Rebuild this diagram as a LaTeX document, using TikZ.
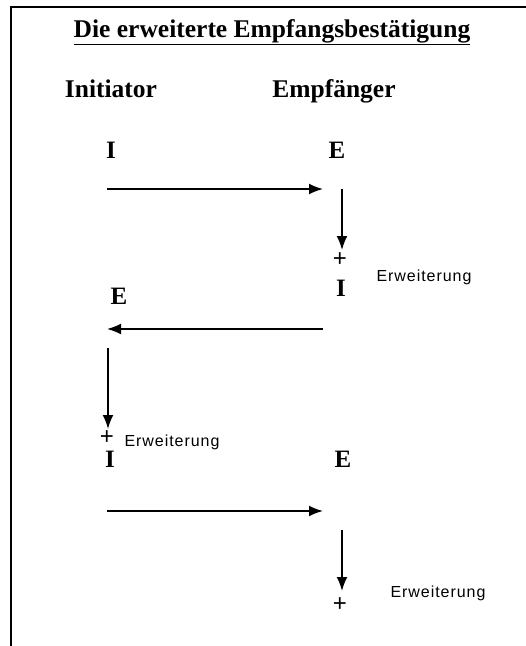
\documentclass[tikz,border=0pt]{standalone}
\usepackage{fontspec}
\setmainfont{Liberation Serif}
\newfontfamily\erwfont[LetterSpace=6]{Liberation Sans}
\newfontfamily\plusfont{Liberation Sans}
\usetikzlibrary{arrows.meta}
\tikzset{
  lbl/.style={inner sep=0pt, anchor=base, font=\bfseries\fontsize{25}{28}\selectfont},
  head/.style={inner sep=0pt, anchor=base, font=\bfseries\fontsize{25.5}{28}\selectfont},
  erw/.style={inner sep=0pt, font=\erwfont\fontsize{16}{18}\selectfont},
  plus/.style={inner sep=0pt, text height=12pt, text depth=-4pt, font=\plusfont\fontsize{24}{26}\selectfont},
  msg/.style={line width=1.8pt, -{Latex[length=14pt,width=11pt]}},
  frame/.style={line width=2.2pt}
}
\begin{document}
\begin{tikzpicture}[x=1pt,y=-1pt]
\useasboundingbox (0,0) rectangle (526,646);
\fill[white] (0,0) rectangle (526,646);
% frame
\coordinate (ftr) at (526,7);
\coordinate (ftl) at (11,7);
\coordinate (fbl) at (11,646);
\draw[frame] (ftr) -- (ftl) -- (fbl);
% title
\node[inner sep=0pt, anchor=base, font=\bfseries\fontsize{25.5}{28}\selectfont] (title) at (272,37) {\underline{Die erweiterte Empfangsbestätigung}};
% headers
\node[head] (ini) at (111,97) {Initiator};
\node[head] (emp) at (334,97) {Empfänger};
% row 1
\node[lbl] (i1) at (111,158) {I};
\node[lbl] (e1) at (337,158) {E};
\coordinate (a1s) at (107,189);
\coordinate (a1e) at (323,189);
\draw[msg] (a1s) -- (a1e);
\coordinate (d1s) at (342,189);
\coordinate (d1e) at (342,250);
\draw[msg] (d1s) -- (d1e);
\node[plus] (p1) at (340,260) {+};
\node[erw] (x1) at (424,277) {Erweiterung};
% row 2
\node[lbl] (e2) at (119,304) {E};
\node[lbl] (i2) at (341,296) {I};
\coordinate (a2s) at (323,329);
\coordinate (a2e) at (107,329);
\draw[msg] (a2s) -- (a2e);
\coordinate (d2s) at (108,348);
\coordinate (d2e) at (108,429);
\draw[msg] (d2s) -- (d2e);
\node[plus] (p2) at (107,438) {+};
\node[erw] (x2) at (172,442) {Erweiterung};
% row 3
\node[lbl] (i3) at (110,467) {I};
\node[lbl] (e3) at (343,467) {E};
\coordinate (a3s) at (107,511);
\coordinate (a3e) at (323,511);
\draw[msg] (a3s) -- (a3e);
\coordinate (d3s) at (342,530);
\coordinate (d3e) at (342,591);
\draw[msg] (d3s) -- (d3e);
\node[plus] (p3) at (340,605) {+};
\node[erw] (x3) at (438,593) {Erweiterung};
\end{tikzpicture}
\end{document}
